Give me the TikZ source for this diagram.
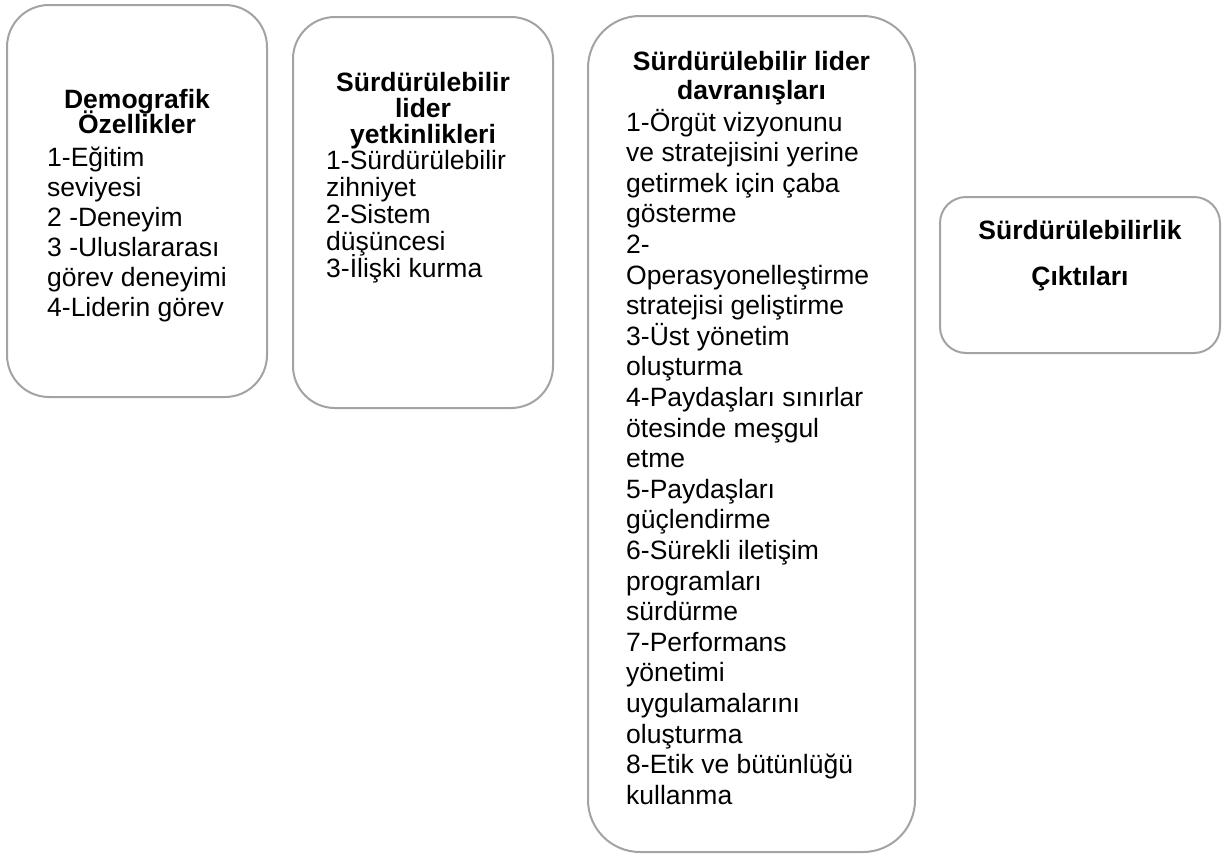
\documentclass[tikz,border=0pt]{standalone}
\usepackage{fontspec}
\setmainfont{Liberation Sans}
\definecolor{frame}{RGB}{163,163,163}
\tikzset{
  panel/.style={draw=frame, line width=2pt, fill=white, rectangle, inner sep=0pt},
  head/.style={anchor=base, inner sep=0pt, font=\bfseries},
  items/.style={anchor=base west, inner sep=0pt},
}
% \blk{width}{baselineskip}{alignment}{lines}: fixed line pitch, no extra lineskip
\newcommand{\blk}[4]{\parbox[t]{#1pt}{\fontsize{26.5}{#2}\selectfont
  \lineskiplimit=-1000pt\lineskip=0pt#3#4}}
\begin{document}
\begin{tikzpicture}[x=1pt,y=-1pt]
\useasboundingbox (0,0) rectangle (1228,854);

% frames
\node[panel, rounded corners=42pt, minimum width=260pt, minimum height=392pt] (demo) at (137,201) {};
\node[panel, rounded corners=42pt, minimum width=260pt, minimum height=391pt] (comp) at (423,212.5) {};
\node[panel, rounded corners=52pt, minimum width=327pt, minimum height=836pt] (beh) at (751.5,434) {};
\node[panel, rounded corners=26pt, minimum width=280pt, minimum height=156pt] (out) at (1080,275) {};

% Demografik Özellikler
\node[head] (demoT) at (137,108) {\blk{240}{25.5}{\centering\bfseries}{Demografik\\Özellikler}};
\node[items] (demoL) at (47,166) {\blk{215}{30}{\raggedright}{1-Eğitim\\seviyesi\\2 -Deneyim\\3 -Uluslararası\\görev deneyimi\\4-Liderin görev}};

% Sürdürülebilir lider yetkinlikleri
\node[head] (compT) at (423,91) {\blk{240}{26}{\centering\bfseries}{Sürdürülebilir\\lider\\yetkinlikleri}};
\node[items] (compL) at (326,169.5) {\blk{220}{27}{\raggedright}{1-Sürdürülebilir\\zihniyet\\2-Sistem\\düşüncesi\\3-İlişki kurma}};

% Sürdürülebilir lider davranışları
\node[head] (behT) at (751.5,70) {\blk{310}{29}{\centering\bfseries}{Sürdürülebilir lider\\davranışları}};
\node[items] (behL) at (626,131) {\blk{280}{30.6}{\raggedright}{1-Örgüt vizyonunu\\ve stratejisini yerine\\getirmek için çaba\\gösterme\\2-\\Operasyonelleştirme\\stratejisi geliştirme\\3-Üst yönetim\\oluşturma\\4-Paydaşları sınırlar\\ötesinde meşgul\\etme\\5-Paydaşları\\güçlendirme\\6-Sürekli iletişim\\programları\\sürdürme\\7-Performans\\yönetimi\\uygulamalarını\\oluşturma\\8-Etik ve bütünlüğü\\kullanma}};

% Sürdürülebilirlik Çıktıları
\node[head] (outT) at (1080,239) {\blk{260}{46}{\centering\bfseries}{Sürdürülebilirlik\\Çıktıları}};
\end{tikzpicture}
\end{document}
